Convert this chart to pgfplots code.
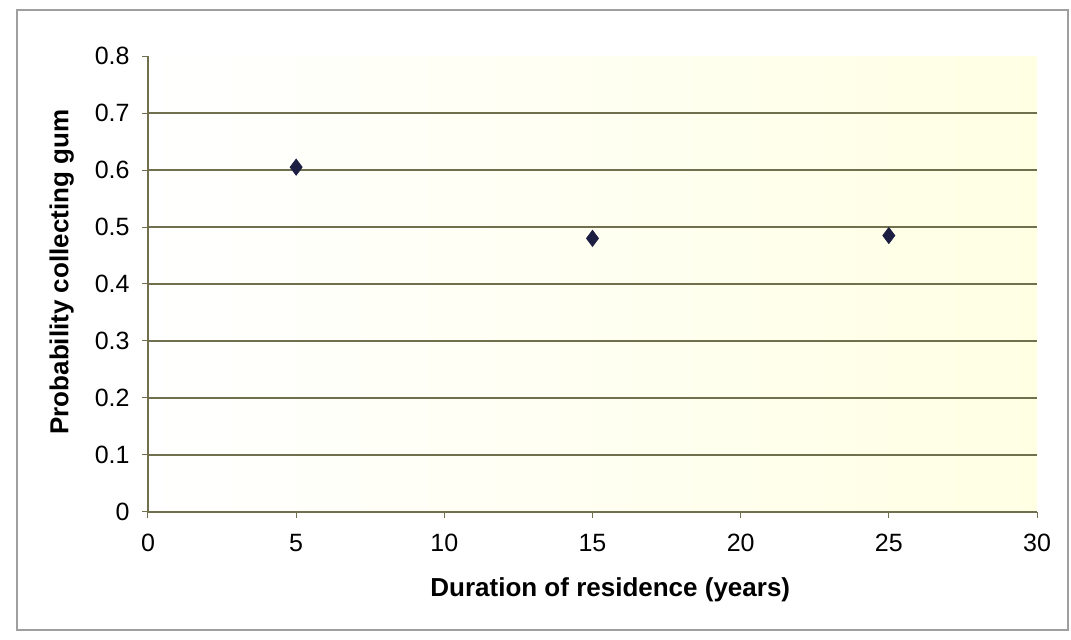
\documentclass[border=0pt]{standalone}
\usepackage{pgfplots}
\pgfplotsset{compat=1.18}
\usepackage{fontspec}
\setmainfont{Liberation Sans}
\definecolor{gridc}{RGB}{112,112,78}
\definecolor{markc}{RGB}{28,30,66}
\definecolor{bgyel}{RGB}{255,255,228}
\begin{document}
\begin{tikzpicture}[x=0.5pt,y=0.5pt]
\useasboundingbox (-148,-128) rectangle (923,512);
\draw[gray!75, line width=0.6pt] (-131,-118) rectangle (920,502);
\begin{axis}[
  at={(0,0)}, anchor=origin,
  scale only axis, width=444.5pt, height=228pt,
  xmin=0, xmax=30, ymin=0, ymax=0.8,
  xtick={0,5,...,30},
  ytick={0,0.1,...,0.71},
  extra y ticks={0.8}, extra y tick style={grid=none},
  ymajorgrids, grid style={gridc, line width=0.6pt},
  axis x line*=bottom, axis y line*=left,
  axis line style={gridc, line width=0.6pt, -},
  tick style={gridc, line width=0.5pt},
  tick align=outside, major tick length=3pt,
  axis background/.style={shade, left color=white, right color=bgyel},
  /pgf/number format/assume math mode=true,
  y tick label style={/pgf/number format/fixed, /pgf/number format/precision=1},
  every tick label/.append style={font=\fontsize{12.5pt}{14pt}\selectfont},
  ticklabel style={inner sep=0pt},
  yticklabel style={xshift=-6pt},
  xticklabel style={yshift=-8pt},
  xlabel={\bfseries Duration of residence (years)},
  ylabel={\bfseries Probability collecting gum},
  label style={font=\fontsize{13pt}{15pt}\selectfont},
  xlabel style={at={(axis description cs:0.52,-0.171)}, anchor=center},
  ylabel style={at={(axis description cs:-0.097,0.526)}, anchor=center, rotate=0},
]
\addplot[only marks, mark=diamond*, mark size=4pt, color=markc] coordinates {
  (5,0.605) (15,0.48) (25,0.485)
};
\end{axis}
\end{tikzpicture}
\end{document}
